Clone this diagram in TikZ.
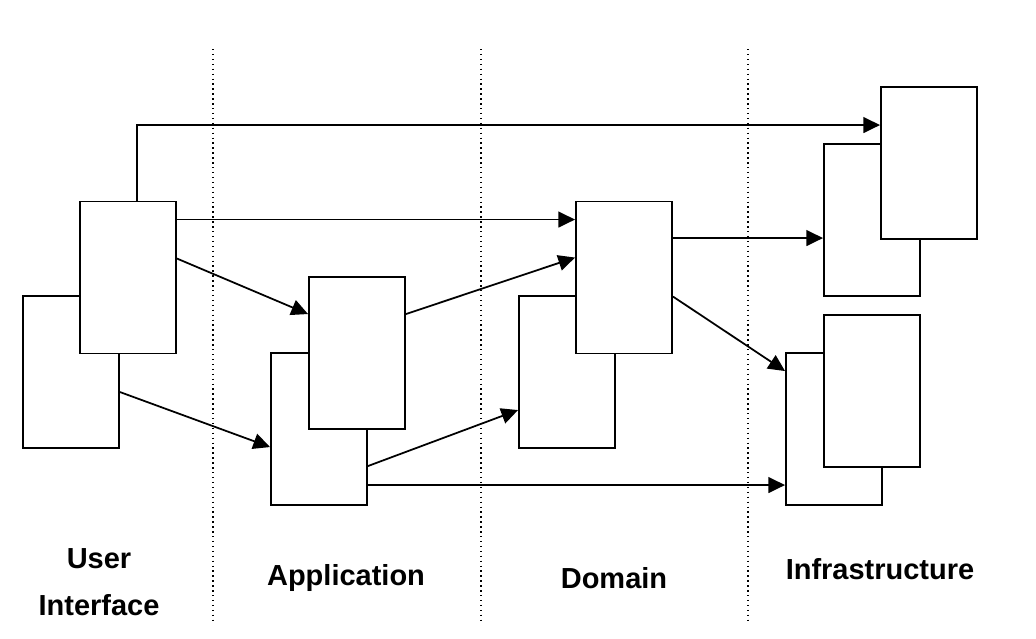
\documentclass[tikz,border=0pt]{standalone}
\usepackage{fontspec}
\setmainfont{Liberation Sans}
\usetikzlibrary{arrows.meta,calc}
\begin{document}
\begin{tikzpicture}[x=0.02cm,y=-0.02cm,
  box/.style={draw,fill=white,line width=1.1pt,inner sep=0pt,minimum width=1.92cm,minimum height=3.04cm},
  conn/.style={line width=1pt,-{Triangle[length=9.5pt,width=9pt]}},
  sep/.style={line width=0.8pt,dotted},
  lbl/.style={font=\fontsize{16.5}{27}\selectfont\bfseries,align=center}]
\useasboundingbox (0,0) rectangle (1036,639);
% separators
\coordinate (s1t) at (213,49); \coordinate (s1b) at (213,620);
\coordinate (s2t) at (481,49); \coordinate (s2b) at (481,620);
\coordinate (s3t) at (748,49); \coordinate (s3b) at (748,620);
\draw[sep] (s1t) -- (s1b);
\draw[sep] (s2t) -- (s2b);
\draw[sep] (s3t) -- (s3b);
% boxes
\node[box] (uib) at (71,372) {};
\node[box] (uif) at (128,277.5) {};
\node[box] (apb) at (319,429) {};
\node[box] (apf) at (357,353) {};
\node[box] (dob) at (567,372) {};
\node[box] (dof) at (624,277.5) {};
\node[box] (itb) at (872,220) {};
\node[box] (itf) at (929,163) {};
\node[box] (ibb) at (834,429) {};
\node[box] (ibf) at (872,391) {};
% labels
\node[lbl] (l1) at (99,582) {User\\Interface};
\node[lbl] (l2) at (346,578) {Application};
\node[lbl] (l3) at (614,578) {Domain};
\node[lbl] (l4) at (880,569) {Infrastructure};
% connectors
\draw[conn] ($(uif.north)+(9,0)$) |- ($(itf.north west)+(0,39)$);
\draw[conn] ($(uif.north east)+(0,19)$) -- ($(dof.north west)+(0,19)$);
\draw[conn] ($(uif.north east)+(0,58)$) -- ($(apf.north west)+(0,38)$);
\draw[conn] ($(uib.north east)+(0,97)$) -- ($(apb.north west)+(0,95)$);
\draw[conn] ($(apf.north east)+(0,38)$) -- ($(dof.north west)+(0,57)$);
\draw[conn] ($(apb.north east)+(0,114)$) -- ($(dob.north west)+(0,115)$);
\draw[conn] ($(apb.north east)+(0,133)$) -- ($(ibb.north west)+(0,133)$);
\draw[conn] ($(dof.north east)+(0,37.5)$) -- ($(itb.north west)+(0,95)$);
\draw[conn] ($(dof.north east)+(0,96)$) -- ($(ibb.north west)+(0,19)$);
\end{tikzpicture}
\end{document}
